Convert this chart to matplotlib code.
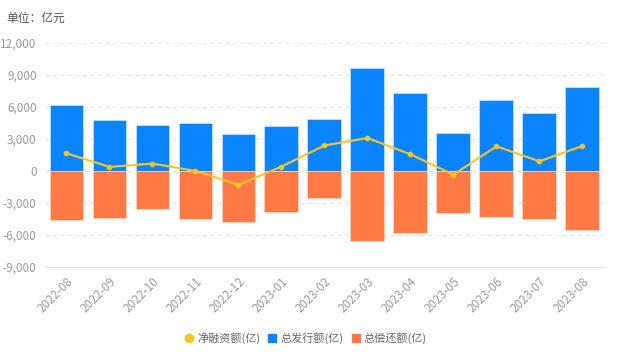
import matplotlib.pyplot as plt
from matplotlib.ticker import FuncFormatter
from matplotlib.lines import Line2D

plt.rcParams['font.family'] = ['Noto Sans CJK SC', 'DejaVu Sans']

months = ["2022-08", "2022-09", "2022-10", "2022-11", "2022-12", "2023-01", "2023-02",
          "2023-03", "2023-04", "2023-05", "2023-06", "2023-07", "2023-08"]
issue = [6220, 4820, 4290, 4540, 3510, 4260, 4880, 9630, 7350, 3600, 6660, 5440, 7910]
repay = [-4560, -4430, -3590, -4530, -4810, -3840, -2500, -6530, -5780, -3940, -4340, -4530, -5560]
net = [1660, 390, 700, 10, -1300, 420, 2400, 3100, 1570, -340, 2320, 910, 2350]

blue = "#0a85ff"
orange = "#ff7a45"
yellow = "#fac524"
grey = "#9a9a9a"

fig = plt.figure(figsize=(6.19, 3.64), dpi=100)
ax = fig.add_axes([0.0727, 0.2665, 0.903, 0.615])

x = list(range(len(months)))
ax.bar(x, issue, width=0.79, color=blue, edgecolor="#bfe0ff", linewidth=0.6, zorder=2)
ax.bar(x, repay, width=0.79, color=orange, edgecolor="#ffd2bf", linewidth=0.6, zorder=2)
ax.plot(x, net, color=yellow, lw=1.5, marker="o", ms=3, zorder=3)

ax.set_xlim(-0.5, 12.5)
ax.set_ylim(-9000, 12000)
ax.set_yticks(range(-9000, 12001, 3000))
ax.yaxis.set_major_formatter(FuncFormatter(lambda v, p: f"{int(v):,}"))
ax.grid(axis="y", color="#e3e3e3", linestyle=(0, (3, 3)), lw=0.9, zorder=0)
for s in ["top", "right", "left"]:
    ax.spines[s].set_visible(False)
ax.spines["bottom"].set_color("#e0e0e0")
ax.tick_params(length=0, colors=grey, labelsize=8.5)
ax.tick_params(axis="y", pad=6)
ax.set_xticks(x)
ax.set_xticklabels(months, rotation=45, ha="right", rotation_mode="anchor")
ax.tick_params(axis="x", pad=6)

fig.text(0.01, 0.95, "单位：亿元", color="#555555", fontsize=8.5, va="center")

# legend: 净融资额 / 总发行额 / 总偿还额
handles = [Line2D([], [], color=yellow, marker="o", ls="none", ms=6),
           Line2D([], [], color=blue, marker="s", ls="none", ms=6),
           Line2D([], [], color=orange, marker="s", ls="none", ms=6)]
labels = ["净融资额(亿)", "总发行额(亿)", "总偿还额(亿)"]
fig.legend(handles, labels, loc="center", bbox_to_anchor=(0.493, 0.07), ncol=3, frameon=False,
           fontsize=8, labelcolor="#666666", handletextpad=0.2, columnspacing=0.6, handlelength=1.0)

fig.savefig("out.png", dpi=100)
